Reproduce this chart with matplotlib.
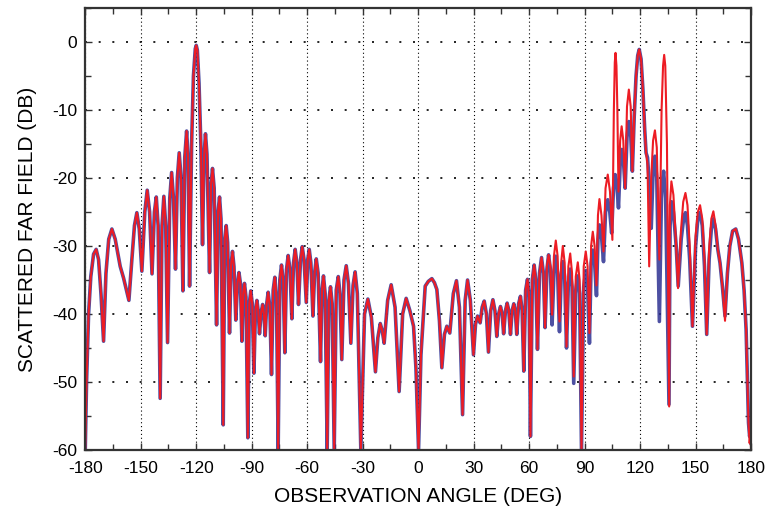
import numpy as np
import matplotlib
matplotlib.use("Agg")
import matplotlib.pyplot as plt
from matplotlib.ticker import MultipleLocator

# Shared part of both curves (-180 .. 62.7 deg)
angle_common = [
    -180, -179.3, -178.2, -177, -175.5, -174.1, -172.8, -171.5, -170.1, -168.8, -167.3, -165.6,
    -163.8, -161.1, -159.3, -156.4, -154.8, -153.4, -152.1, -150.8, -149.4, -147.8, -146.5,
    -145.2, -143.9, -142.6, -141.6, -140.6, -139.5, -138.5, -137.5, -136.5, -135.5, -134.3,
    -133.3, -132.3, -131.2, -130.2, -129.2, -128.2, -127.2, -126.2, -125.2, -124.4, -123.6,
    -122.5, -121.5, -120.5, -120.0, -119.4, -118.5, -117.5, -116.6, -115.8, -115.0, -114.2,
    -112.8, -112.0, -111.2, -110.3, -109.0, -108.2, -107.4, -106.6, -105.4, -104.6, -103.8,
    -103.0, -102.0, -101.2, -100.4, -99.6, -98.6, -97.7, -96.9, -96.1, -95.3, -94.6, -93.9,
    -93.1, -92.1, -91.3, -90.5, -89.7, -88.8, -88.0, -87.2, -86.5, -85.8, -84.9, -84.1, -83.4,
    -82.7, -81.9, -81.1, -80.2, -79.3, -78.4, -77.5, -76.6, -75.7, -74.8, -73.9, -73.0, -72.1,
    -71.2, -70.3, -69.3, -68.3, -67.4, -66.5, -65.6, -64.7, -63.6, -62.7, -61.7, -60.5, -59.7,
    -58.9, -58.0, -56.9, -56.0, -55.1, -54.1, -52.8, -52.0, -51.2, -50.3, -49.2, -48.3, -47.4,
    -46.5, -45.4, -44.3, -43.2, -42.3, -41.3, -40.1, -38.9, -37.7, -36.4, -35.2, -34.1, -32.9,
    -31.0, -29.0, -27.2, -25.3, -23.1, -21.8, -20.5, -19.4, -18.4, -16.5, -14.6, -12.5, -10.3,
    -8.4, -6.5, -4.5, -2.5, -1.2, 0.2, 1.5, 3.8, 5.5, 7.4, 8.8, 10.1, 11.5, 12.8, 14.2, 15.5,
    17.1, 19.0, 20.7, 22.3, 24.0, 25.4, 26.7, 28.2, 29.9, 31.0, 32.1, 33.5, 34.6, 35.7, 36.9,
    38.0, 39.2, 40.4, 41.5, 42.5, 43.5, 44.5, 45.4, 46.2, 47.2, 48.1, 49.0, 49.9, 50.8, 51.7,
    52.5, 53.3, 54.3, 55.3, 56.2, 57.1, 58.1, 59.1, 60.0, 60.7, 61.7, 62.7,
]
db_common = [
    -60, -50, -40, -34.5, -31.2, -30.5, -32, -37, -44.0, -34, -29, -27.5,
    -29, -33.0, -34.7, -38.0, -32, -27, -25.1, -27.5, -33.7, -25, -21.8,
    -25, -34.1, -25, -22.8, -27, -52.4, -27, -22.7, -27, -44.2, -23,
    -19.2, -23, -33.4, -20, -16.3, -20, -36.6, -17, -13.1, -17, -35.9,
    -15, -5, -1, -0.5, -1.2, -6, -15, -29.8, -17, -13.5, -16.5,
    -33.9, -21, -18.6, -21.5, -41.6, -25, -22.8, -26, -56.3, -29, -27.0,
    -29.5, -42.8, -33, -30.8, -33, -40.9, -35.5, -33.9, -35.5, -44.0, -37, -35.5,
    -37.5, -58.2, -38.5, -36.6, -38.5, -48.7, -39.5, -38.0, -39.5, -42.9, -39.8, -38.6, -40,
    -43.2, -38.5, -36.8, -39, -48.9, -36.5, -34.6, -37.5, -60, -35, -32.8, -35, -45.7,
    -33.5, -31.4, -33.5, -40.7, -32.5, -30.5, -32.5, -38.6, -32, -30.1, -32, -38.3, -32,
    -30.5, -32.5, -40.3, -34, -31.9, -34, -47.0, -36.5, -34.4, -37, -60, -38, -36.0,
    -38.5, -60, -36.5, -34.5, -37, -46.7, -35, -32.9, -35.5, -44.3, -35.8, -33.8, -37,
    -60, -40, -37.8, -40.5, -48.5, -43.5, -41.4, -42.5, -44.3, -38, -35.7, -39, -51.4,
    -40, -37.7, -39.5, -41.8, -48, -60, -46, -35.9, -35.2, -34.8, -35.4, -36.4, -41, -47.9, -43, -41.8,
    -42.8, -37, -35.1, -39, -54.8, -38, -35.0, -38, -46.0, -41.5, -40.3, -41.3, -39, -38.1, -40,
    -45.6, -39.5, -37.9, -39.5, -43.3, -40, -38.9, -40, -42.9, -39.5, -38.4, -39.5, -43.0, -39.5, -38.5,
    -39.5, -43.0, -38.5, -37.4, -39.5, -48.4, -36.5, -34.9, -37.5, -58.0, -35, -32.8,
]

# Right part, blue curve
angle_blue = [
    63.6, 64.5, 65.6, 66.7, 67.7, 68.6, 69.6, 70.5, 71.5, 72.4, 73.4, 74.4, 75.4, 76.4, 77.3,
    78.2, 79.2, 80.2, 81.2, 82.2, 83.2, 84.1, 85.2, 86.3, 87.3, 88.3, 89.5, 90.6, 91.6, 92.6,
    93.5, 94.4, 95.4, 96.4, 97.2, 98.0, 99.1, 100.2, 101.3, 102.5, 103.6, 104.6, 105.6, 106.5,
    107.4, 108.3, 109.2, 110.1, 111.0, 111.9, 112.9, 113.9, 114.9, 115.8, 116.8, 117.8, 118.7,
    119.5, 120.5, 121.5, 122.5, 123.2, 124.0, 125.0, 126.0, 127.0, 128.0, 129.0, 130.4, 131.6,
    132.7, 133.8, 135.6, 136.2, 137.0, 138.0, 139.5, 140.6, 142.2, 143.5, 144.5, 145.6, 146.8,
    148.3, 150.0, 151.2, 152.4, 153.6, 154.8, 156.0, 157.3, 158.5, 159.6, 160.8, 162.0, 163.2,
    164.5, 165.9, 167.2, 168.5, 170.0, 171.7, 173.2, 175.0, 176.2, 177.3, 178.6, 179.2, 179.6, 180,
]
db_blue = [
    -35, -45.2, -34, -31.7, -34, -42.0, -33.5, -31.3, -33.5, -41.6, -34, -31.5, -34, -42.6, -34.5,
    -32.3, -34.5, -45.0, -35.5, -33.4, -36, -50.2, -36.5, -34.4, -37, -60, -36, -33.6, -36, -44.3,
    -32.5, -30.6, -32.5, -37.3, -29, -26.9, -28.5, -32.3, -25, -23.2, -25, -28.1, -21.5, -19.5,
    -21, -24.4, -18, -15.8, -17.5, -21.5, -14, -11.7, -13.5, -19.0, -11, -5, -2,
    -1.1, -2.5, -7, -13, -16.3, -17, -21, -27.4, -19, -16.8, -20, -41.1, -21.5,
    -19.0, -23, -53.3, -27, -23.5, -25, -30, -35.9, -29, -26, -25.1, -27, -32,
    -41.8, -30, -26, -25.1, -27, -33, -43.0, -32, -27.5, -26.0, -27.5, -30.5, -32.5,
    -36, -40.3, -34, -30, -27.8, -27.5, -29, -32.5, -36.5, -42.3, -56.0, -58, -57, -59,
]

# Right part, red curve
angle_red = [
    63.6, 64.5, 65.6, 66.7, 67.7, 68.6, 69.6, 70.5, 71.5, 72.4, 73.4, 74.4, 75.4, 76.4, 77.3,
    78.2, 79.2, 80.2, 81.2, 82.2, 83.2, 84.1, 85.2, 86.3, 87.3, 88.3, 89.5, 90.6, 91.6, 92.6,
    93.5, 94.4, 95.4, 96.4, 97.2, 98.0, 99.1, 100.2, 101.3, 102.5, 103.7, 105.0, 105.8, 106.3,
    106.7, 107.2, 107.7, 108.3, 109.2, 110.0, 110.9, 111.9, 112.9, 113.9, 114.9, 115.8, 116.8,
    117.8, 118.7, 119.5, 120.5, 121.5, 122.5, 123.2, 124.0, 124.9, 126.0, 127.0, 128.0, 129.0,
    130.4, 131.6, 132.4, 133.0, 133.6, 134.5, 135.7, 136.1, 136.9, 138.0, 139.3, 140.5, 142.0,
    143.3, 144.5, 145.6, 146.8, 148.3, 150.0, 151.2, 152.4, 153.6, 154.8, 156.0, 157.3, 158.5,
    159.6, 160.8, 162.0, 163.2, 164.5, 165.9, 167.2, 168.5, 170.0, 171.7, 173.2, 175.0, 176.2,
    177.3, 178.6, 179.2, 179.6, 180,
]
db_red = [
    -35, -45.2, -34, -31.7, -34, -42.0, -33, -31.3, -33, -40.1, -31.5, -29.2, -31.5, -41.1, -32.5,
    -30.0, -32.5, -44.8, -33, -31.1, -34, -49.2, -34.5, -32.4, -35, -60, -33, -30.8, -33, -42.8,
    -30, -27.9, -30, -35.8, -25.5, -23.1, -25.5, -30.8, -21.5, -19.5, -22, -29.1, -10, -3,
    -1.6, -3.5, -10, -22, -14.5, -12.4, -14.5, -21.5, -9.5, -7.0, -9.5, -19.0, -11,
    -5, -2, -1.1, -2.5, -7, -13, -16.3, -18, -33.0, -20, -14.5, -13.0, -15.5,
    -32.0, -10, -3.5, -1.9, -3.5, -15, -53.6, -24, -20.5, -22.5, -29, -36.2, -28,
    -23.5, -22.2, -24, -30, -41.8, -28.5, -25, -24.0, -26, -32, -43.0, -30.5, -26,
    -24.9, -27, -30.5, -32.5, -36, -41.0, -34, -30, -27.8, -27.5, -29, -32.5, -36.5,
    -42.3, -56.0, -59, -58, -60,
]

x_blue = np.array(angle_common + angle_blue)
y_blue = np.array(db_common + db_blue)
x_red = np.array(angle_common + angle_red)
y_red = np.array(db_common + db_red)

plt.rcParams['font.family'] = ['Liberation Sans', 'DejaVu Sans']
plt.rcParams['axes.unicode_minus'] = False

fig = plt.figure(figsize=(7.68, 5.14), dpi=100)
ax = fig.add_axes([0.111, 0.1245, 0.867, 0.86])

ax.plot(x_blue, y_blue, color='#2E3192', lw=2.6, solid_joinstyle='round', alpha=0.85)
ax.plot(x_red, y_red, color='#ED1C24', lw=1.5, solid_joinstyle='round')

ax.set_xlim(-180, 180)
ax.set_ylim(-60, 5)
ax.xaxis.set_major_locator(MultipleLocator(30))
ax.xaxis.set_minor_locator(MultipleLocator(15))
ax.yaxis.set_major_locator(MultipleLocator(10))
ax.yaxis.set_minor_locator(MultipleLocator(5))
ax.tick_params(which='both', direction='in', top=True, right=True, labelsize=12.5,
               color='#333333', width=1.0)
ax.tick_params(which='major', length=5)
ax.tick_params(which='minor', length=4)
ax.tick_params(axis='x', which='major', pad=8)
ax.tick_params(axis='y', which='major', pad=6)

ax.grid(axis='x', which='major', color='black', linestyle=(0, (1, 2.5)), lw=0.8)
ax.grid(axis='y', which='major', color='black', linestyle=(0, (1.2, 7)), lw=1.2)

for s in ax.spines.values():
    s.set_color('#333333')
    s.set_linewidth(1.6)

ax.set_xlabel('OBSERVATION ANGLE (DEG)', fontsize=15, labelpad=8)
ax.set_ylabel('SCATTERED FAR FIELD (DB)', fontsize=15, labelpad=11)

plt.savefig('out.png', dpi=100)
